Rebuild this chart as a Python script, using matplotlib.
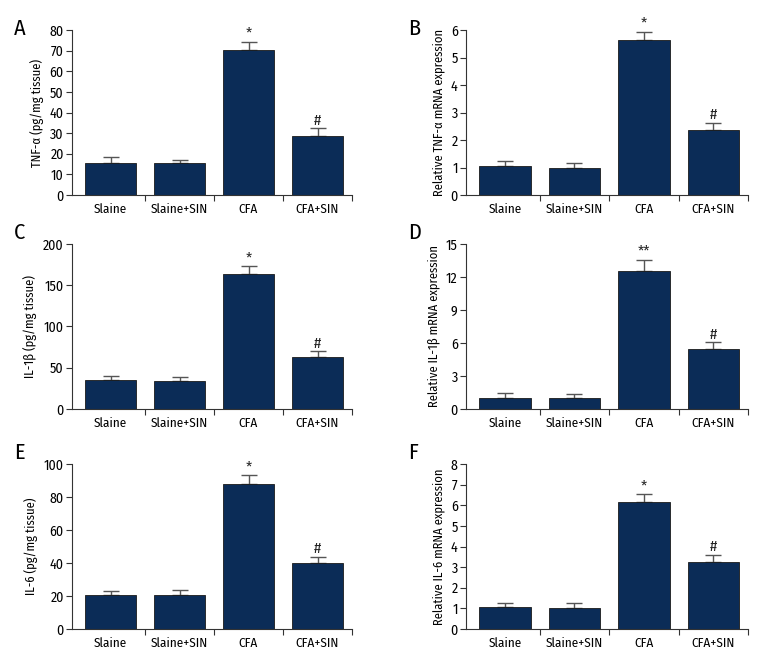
import matplotlib
matplotlib.use('Agg')
import matplotlib.pyplot as plt
import numpy as np
import logging

logging.getLogger('matplotlib.font_manager').setLevel(logging.ERROR)
plt.rcParams['font.family'] = ['Fira Sans Condensed', 'Roboto Condensed', 'PT Sans Narrow',
                               'Archivo Narrow', 'Liberation Sans Narrow', 'DejaVu Sans']

groups = ['Slaine', 'Slaine+SIN', 'CFA', 'CFA+SIN']

# panel data: mean values and upper error (top of error bar)
tnf_protein = [15.7, 15.7, 70.3, 28.4]
tnf_protein_top = [18.4, 17.1, 74.3, 32.3]
tnf_mrna = [1.04, 0.97, 5.65, 2.36]
tnf_mrna_top = [1.24, 1.16, 5.94, 2.61]
il1b_protein = [35.2, 34.3, 163.6, 63.4]
il1b_protein_top = [40.4, 38.8, 173.3, 69.9]
il1b_mrna = [1.0, 0.97, 12.58, 5.48]
il1b_mrna_top = [1.45, 1.36, 13.58, 6.06]
il6_protein = [20.4, 20.4, 87.6, 40.3]
il6_protein_top = [23.3, 23.7, 93.3, 43.9]
il6_mrna = [1.07, 1.02, 6.17, 3.24]
il6_mrna_top = [1.26, 1.26, 6.53, 3.58]

marks_star = ['', '', '*', '#']
marks_dstar = ['', '', '**', '#']

panels = [
    ('A', tnf_protein, tnf_protein_top, 'TNF-α (pg/mg tissue)', 80, 10, marks_star),
    ('B', tnf_mrna, tnf_mrna_top, 'Relative TNF-α mRNA expression', 6, 1, marks_star),
    ('C', il1b_protein, il1b_protein_top, 'IL-1β (pg/mg tissue)', 200, 50, marks_star),
    ('D', il1b_mrna, il1b_mrna_top, 'Relative IL-1β mRNA expression', 15, 3, marks_dstar),
    ('E', il6_protein, il6_protein_top, 'IL-6 (pg/mg tissue)', 100, 20, marks_star),
    ('F', il6_mrna, il6_mrna_top, 'Relative IL-6 mRNA expression', 8, 1, marks_star),
]

W, H = 780, 672
fig = plt.figure(figsize=(W / 100, H / 100), dpi=100)

# axes boxes in pixels: (left, top, right, bottom)
boxes = [
    (72, 30, 352, 195), (466, 30, 748, 195),
    (72, 244, 352, 409), (466, 244, 748, 409),
    (72, 464, 352, 629), (466, 464, 748, 629),
]
letter_pos = [(14, 18), (408, 18), (14, 222), (408, 222), (14, 442), (408, 442)]

bar_color = '#0b2c57'
x = np.arange(len(groups))

for (letter, vals, tops, ylabel, ymax, ystep, marks), (l, t, r, b), (lx, ly) in zip(panels, boxes, letter_pos):
    ax = fig.add_axes([l / W, 1 - b / H, (r - l) / W, (b - t) / H])
    err = np.array(tops) - np.array(vals)
    ax.bar(x, vals, width=0.74, color=bar_color, edgecolor='#1a1a1a', linewidth=0.6, zorder=2)
    ax.errorbar(x, vals, yerr=[np.zeros(len(vals)), err], fmt='none', ecolor='#555555',
                elinewidth=1.0, capsize=6, capthick=1.0, zorder=1)
    for xi, top, m in zip(x, tops, marks):
        if m:
            ax.text(xi, top + ymax * 0.005, m, ha='center', va='bottom', fontsize=11, color='#222222')
    ax.set_xlim(-0.56, 3.5)
    ax.set_ylim(0, ymax)
    ax.set_yticks(np.arange(0, ymax + ystep / 2, ystep))
    ax.set_xticks(x)
    ax.set_xticklabels(groups, fontsize=9.5)
    ax.tick_params(axis='x', which='major', length=0, pad=6)
    ax.set_xticks([0.5, 1.5, 2.5, 3.5], minor=True)
    ax.tick_params(axis='x', which='minor', length=4, width=0.8, color='#333333')
    ax.tick_params(axis='y', labelsize=10, length=4, width=0.8, color='#333333', pad=2)
    ax.spines['top'].set_visible(False)
    ax.spines['right'].set_visible(False)
    for s in ('left', 'bottom'):
        ax.spines[s].set_linewidth(0.8)
        ax.spines[s].set_color('#333333')
    ax.set_ylabel(ylabel, fontsize=9, labelpad=4)
    fig.text(lx / W, 1 - ly / H, letter, fontsize=16, ha='left', va='top')

fig.savefig('out.png', dpi=100, facecolor='white')
